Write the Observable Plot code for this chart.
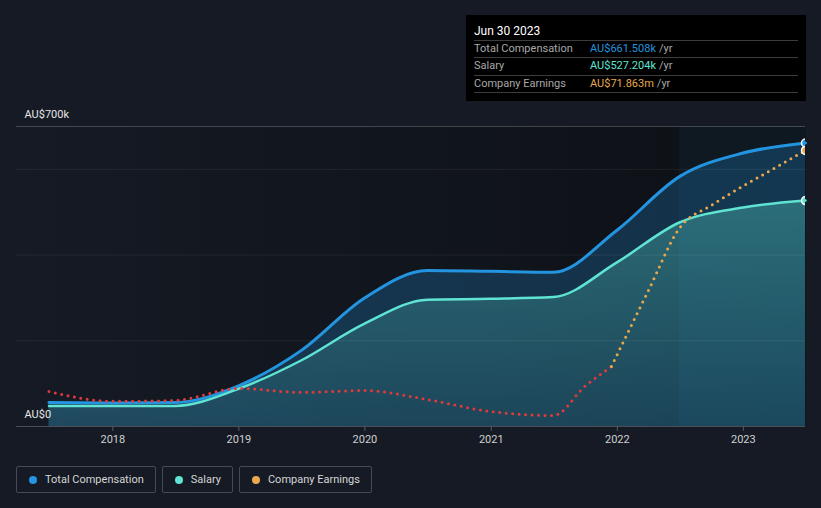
<!DOCTYPE html>
<html><head><meta charset="utf-8">
<script src="https://cdn.jsdelivr.net/npm/d3@7"></script>
<script src="https://cdn.jsdelivr.net/npm/@observablehq/plot@0.6"></script>
<style>
body{margin:0;background:#151a24;font-family:Roboto,"Noto Sans",sans-serif;width:821px;height:508px;overflow:hidden;position:relative}
#chart svg{display:block}
#tip{position:absolute;left:466px;top:15px;width:324px;height:86px;background:#000;padding:0 8px;box-sizing:content-box;font-size:11px;color:#a8a8a8}
#tip .hd{color:#fff;font-size:12px;height:26px;line-height:16px;padding-top:8px;box-sizing:border-box;border-bottom:1px solid #3c3c3c}
#tip .row{height:17.3px;line-height:16.3px;border-bottom:1px solid #3c3c3c;box-sizing:border-box;display:flex}
#tip .lab{width:116px}
#tip .u{color:#a8a8a8;margin-left:3px}
#legend{position:absolute;left:16px;top:466px;display:flex;gap:6px}
#legend .it{height:27px;border:1px solid #454a54;border-radius:2px;box-sizing:border-box;display:flex;align-items:center;padding:0 11px 0 12px;font-size:11px;color:#d6d6d6}
#legend .dot{width:8px;height:8px;border-radius:50%;margin-right:8px}
</style></head><body>
<div id="chart"></div>
<div id="tip">
  <div class="hd">Jun 30 2023</div>
  <div class="row"><span class="lab">Total Compensation</span><span style="color:#2394df">AU$661.508k</span><span class="u">/yr</span></div>
  <div class="row"><span class="lab">Salary</span><span style="color:#5fe3d2">AU$527.204k</span><span class="u">/yr</span></div>
  <div class="row"><span class="lab">Company Earnings</span><span style="color:#e8a84e">AU$71.863m</span><span class="u">/yr</span></div>
</div>
<div id="legend">
  <div class="it"><span class="dot" style="background:#2394df"></span>Total Compensation</div>
  <div class="it"><span class="dot" style="background:#5fe3d2"></span>Salary</div>
  <div class="it"><span class="dot" style="background:#e8a84e"></span>Company Earnings</div>
</div>
<script>
// Compensation (AU$ thousands)
const compDates = ["2017-06-30","2017-12-31","2018-06-30","2018-12-31","2019-06-30","2019-12-31","2020-06-30","2020-12-31","2021-06-30","2021-12-31","2022-06-30","2022-12-31","2023-06-30"];
const totalComp = [56,55,56,95,177,300,364,362,360,458,583,638,661.508];
const salary    = [48,48,48,88,154,240,296,298,302,383,476,511,527.204];
// Company earnings (AU$ millions), plotted on a hidden secondary scale
const earnDates = ["2017-06-30","2017-12-31","2018-06-30","2018-12-31","2019-06-30","2019-12-31","2020-06-30","2020-12-31","2021-06-30","2021-09-30","2021-12-15","2022-03-31","2022-06-30","2022-09-30","2022-12-31","2023-03-31","2023-06-30"];
const earnings  = [-8.3,-11.6,-11.3,-7.3,-8.6,-8,-11,-15,-16.3,-6.5,0,25,46,53.6,60,65.9,71.863];
const yTicks = [0,700];
const yTickLabels = ["AU$0","AU$700k"];
const gridValues = [200,400,600];
const xTickYears = [2018,2019,2020,2021,2022,2023];
const highlight = ["2022-06-30","2023-06-30"];

const parse = d3.utcParse("%Y-%m-%d");
const comp = compDates.map((d,i)=>({date:parse(d), total:totalComp[i], salary:salary[i]}));
// secondary scale: earnings -> compensation units
const earnToY = v => 140 + 7.014*v;
const earn = earnDates.map((d,i)=>({date:parse(d), v:earnings[i], y:earnToY(earnings[i])}));
const earnNeg = earn.filter(d=>d.v<=0);
const earnPos = earn.filter(d=>d.v>=0);
const last = comp[comp.length-1];
const lastE = earn[earn.length-1];

const defs = () => {
  const d = d3.create("svg:defs");
  const g = d.append("linearGradient").attr("id","bgGrad").attr("x1",0).attr("x2",1).attr("y1",0).attr("y2",0);
  g.append("stop").attr("offset","0%").attr("stop-color","#151a24");
  g.append("stop").attr("offset","100%").attr("stop-color","#0d1015");
  const s = d.append("linearGradient").attr("id","salGrad").attr("x1",0).attr("x2",0).attr("y1",0).attr("y2",1);
  s.append("stop").attr("offset","0%").attr("stop-color","#5fe3d2").attr("stop-opacity",0.32);
  s.append("stop").attr("offset","100%").attr("stop-color","#5fe3d2").attr("stop-opacity",0.1);
  return d.node();
};

const chart = Plot.plot({
  width: 821,
  height: 455,
  marginLeft: 16,
  marginRight: 16,
  marginTop: 126,
  marginBottom: 29,
  style: {background: "transparent", fontFamily: "Roboto, 'Noto Sans', sans-serif"},
  x: {type: "utc", domain: [parse("2017-03-28"), parse("2023-06-30")]},
  y: {domain: [0,700], axis: null},
  marks: [
    defs,
    Plot.frame({fill: "url(#bgGrad)", stroke: null}),
    Plot.rectX([0], {x1: parse(highlight[0]), x2: parse(highlight[1]), y1: 0, y2: 700, fill: "#2394df", fillOpacity: 0.06}),
    Plot.areaY(comp, {x: "date", y: "total", fill: "#2394df", fillOpacity: 0.25, curve: "monotone-x"}),
    Plot.areaY(comp, {x: "date", y: "salary", fill: "url(#salGrad)", curve: "monotone-x"}),
    Plot.ruleY(gridValues, {stroke: "#ffffff", strokeOpacity: 0.07}),
    Plot.ruleY([700], {stroke: "#ffffff", strokeOpacity: 0.2}),
    Plot.ruleY([0], {stroke: "#4a4e56"}),
    Plot.lineY(comp, {x: "date", y: "total", stroke: "#2394df", strokeWidth: 3, curve: "monotone-x"}),
    Plot.lineY(comp, {x: "date", y: "salary", stroke: "#5fe3d2", strokeWidth: 2.5, curve: "monotone-x"}),
    Plot.lineY(earnNeg, {x: "date", y: "y", stroke: "#e23a3a", strokeWidth: 3, strokeDasharray: "0,6.5", strokeLinecap: "round", curve: "monotone-x"}),
    Plot.lineY(earnPos, {x: "date", y: "y", stroke: "#e8a84e", strokeWidth: 3, strokeDasharray: "0,6.5", strokeLinecap: "round", curve: "monotone-x"}),
    Plot.dot([last], {x: "date", y: "total", r: 4, fill: "#2394df", stroke: "#fff", strokeWidth: 1.5, clip: true}),
    Plot.dot([last], {x: "date", y: "salary", r: 4, fill: "#5fe3d2", stroke: "#fff", strokeWidth: 1.5, clip: true}),
    Plot.dot([lastE], {x: "date", y: "y", r: 4, fill: "#e8a84e", stroke: "#fff", strokeWidth: 1.5, clip: true}),
    Plot.text(yTicks, {y: d=>d, text: (d,i)=>yTickLabels[i], frameAnchor: "left", textAnchor: "start", dx: 8, dy: -12, fill: "#e6e6e6", fontSize: 11}),
    Plot.axisX({ticks: xTickYears.map(y=>new Date(Date.UTC(y,0,1))), tickFormat: d=>String(d.getUTCFullYear()), tickSize: 5, tickPadding: 4, stroke: "#555a62", color: "#d0d0d0", fontSize: 11})
  ]
});
document.getElementById("chart").append(chart);
</script>
</body></html>
